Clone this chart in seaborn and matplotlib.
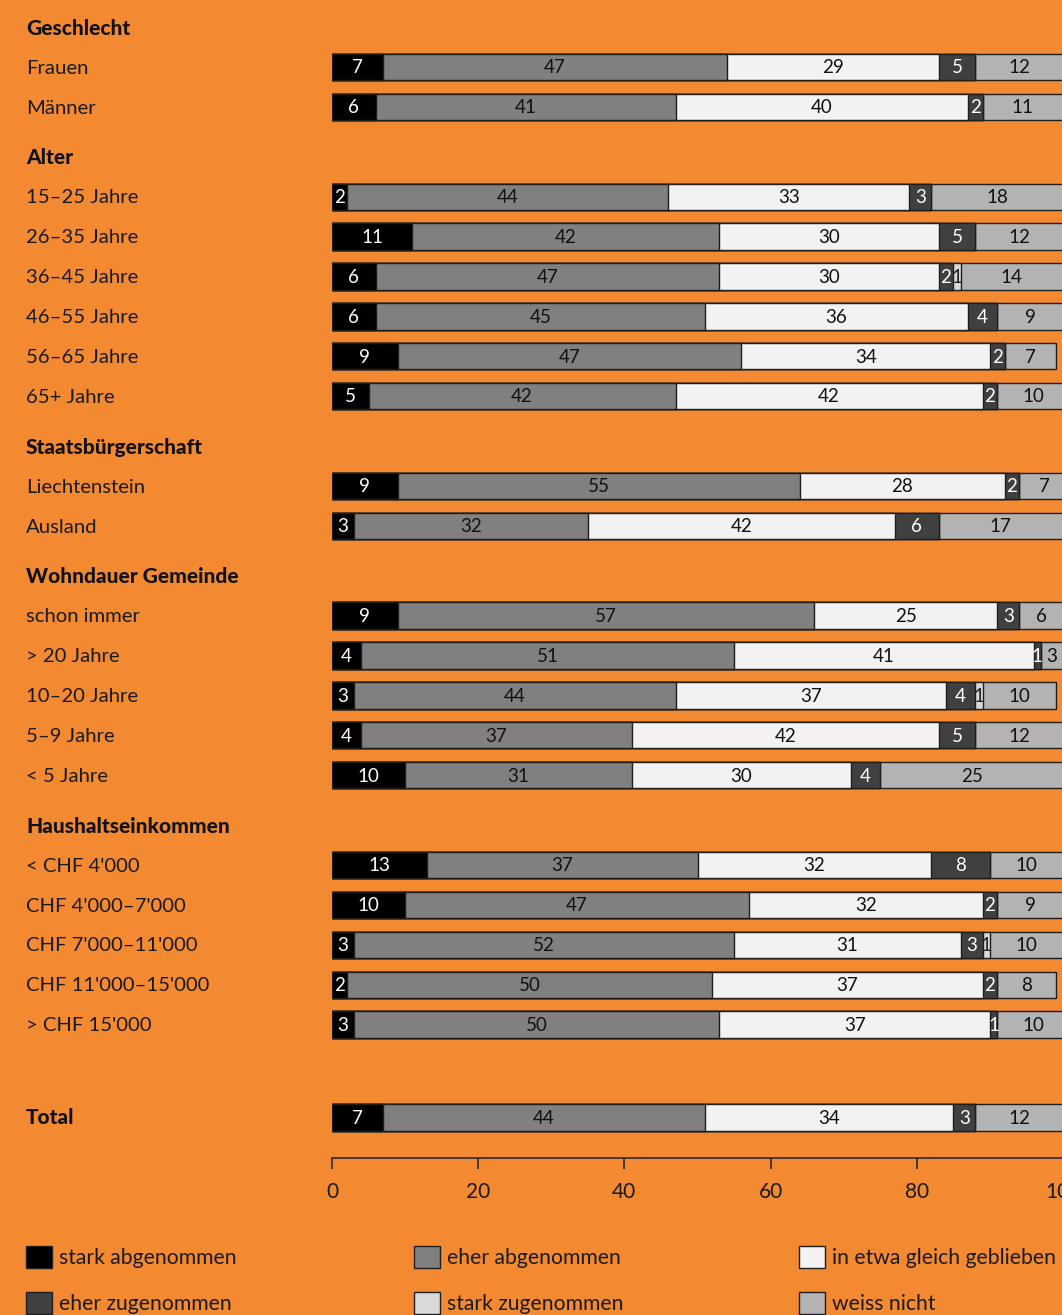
import numpy as np
import pandas as pd
import matplotlib
matplotlib.use("Agg")
import matplotlib.pyplot as plt
import matplotlib.transforms as mtransforms
from matplotlib.patches import Patch
import seaborn as sns

# ---- data ---------------------------------------------------------------
series_names = ["stark abgenommen", "eher abgenommen", "in etwa gleich geblieben",
                "eher zugenommen", "stark zugenommen", "weiss nicht"]

groups = ["Geschlecht", "Alter", "Staatsbürgerschaft", "Wohndauer Gemeinde",
          "Haushaltseinkommen"]

group_rows = [
    ["Frauen", "Männer"],
    ["15–25 Jahre", "26–35 Jahre", "36–45 Jahre", "46–55 Jahre", "56–65 Jahre", "65+ Jahre"],
    ["Liechtenstein", "Ausland"],
    ["schon immer", "> 20 Jahre", "10–20 Jahre", "5–9 Jahre", "< 5 Jahre"],
    ["< CHF 4'000", "CHF 4'000–7'000", "CHF 7'000–11'000", "CHF 11'000–15'000", "> CHF 15'000"],
]

stark_ab = [7, 6, 2, 11, 6, 6, 9, 5, 9, 3, 9, 4, 3, 4, 10, 13, 10, 3, 2, 3]
eher_ab = [47, 41, 44, 42, 47, 45, 47, 42, 55, 32, 57, 51, 44, 37, 31, 37, 47, 52, 50, 50]
gleich = [29, 40, 33, 30, 30, 36, 34, 42, 28, 42, 25, 41, 37, 42, 30, 32, 32, 31, 37, 37]
eher_zu = [5, 2, 3, 5, 2, 4, 2, 2, 2, 6, 3, 1, 4, 5, 4, 8, 2, 3, 2, 1]
stark_zu = [0, 0, 0, 0, 1, 0, 0, 0, 0, 0, 0, 0, 1, 0, 0, 0, 0, 1, 0, 0]
weiss_nicht = [12, 11, 18, 12, 14, 9, 7, 10, 7, 17, 6, 3, 10, 12, 25, 10, 9, 10, 8, 10]

total_label = "Total"
total_values = [7, 44, 34, 3, 0, 12]

x_ticks = [0, 20, 40, 60, 80, 100]

# ---- styling ------------------------------------------------------------
BG = "#F38A31"
colors = ["#000000", "#808080", "#F2F2F2", "#404040", "#D9D9D9", "#B3B3B3"]
text_on = ["white", "#111111", "#111111", "white", "#222222", "#111111"]
EDGE = "#1E1E1E"
LABEL_FONT = ["Lato", "DejaVu Sans"]
NUM_FONT = ["Lato", "DejaVu Sans"]

sns.set_theme(style="white")
plt.rcParams["font.family"] = LABEL_FONT

# ---- row layout (one unit per row, wider gaps before group headings) ----
rows = []          # (label, position, values)
headers = []       # (label, position)
series_cols = [stark_ab, eher_ab, gleich, eher_zu, stark_zu, weiss_nicht]
pos = 0.0
k = 0
for gi, (g, labels) in enumerate(zip(groups, group_rows)):
    if gi > 0:
        pos += 1.25
    headers.append((g, pos))
    for lab in labels:
        pos += 1.0
        rows.append((lab, pos, [col[k] for col in series_cols]))
        k += 1
pos += 2.33
rows.append((total_label, pos, total_values))

records = []
for lab, p, vals in rows:
    cum = np.cumsum(vals)
    for si, name in enumerate(series_names):
        records.append({"label": lab, "pos": p, "series": name, "value": vals[si],
                        "cum": cum[si], "start": cum[si] - vals[si]})
df = pd.DataFrame(records)

# ---- figure -------------------------------------------------------------
W, H = 1062, 1315
fig = plt.figure(figsize=(W / 100, H / 100), dpi=100, facecolor=BG)
ax_bottom_px = 1158
ax = fig.add_axes([332 / W, 1 - ax_bottom_px / H, (1063 - 332) / W, ax_bottom_px / H])
ax.set_facecolor(BG)

# stacked bars: cumulative totals drawn from the outermost series inwards
for si in range(len(series_names) - 1, -1, -1):
    sub = df[df["series"] == series_names[si]]
    sns.barplot(data=sub, x="cum", y="pos", orient="y", native_scale=True,
                color=colors[si], saturation=1, width=0.66, errorbar=None,
                edgecolor=EDGE, linewidth=1.0, ax=ax)

u = 39.9
y_top = 1 - 67 / u
y_bot = 1 + (ax_bottom_px - 67) / u
ax.set_ylim(y_bot, y_top)
ax.set_xlim(0, 100)

# value labels centred in each segment
for _, r in df.iterrows():
    if r["value"] <= 0:
        continue
    si = series_names.index(r["series"])
    ax.text(r["start"] + r["value"] / 2, r["pos"] + 0.02, f"{int(r['value'])}",
            ha="center", va="center", fontsize=13.5, family=NUM_FONT,
            color=text_on[si])

# row and heading labels at the left margin
trans = mtransforms.blended_transform_factory(fig.transFigure, ax.transData)
for lab, p, _ in rows[:-1]:
    ax.text(26 / W, p + 0.03, lab, transform=trans, ha="left", va="center",
            fontsize=14.6, color="#1A1A1A")
for g, p in headers:
    ax.text(26 / W, p + 0.03, g, transform=trans, ha="left", va="center",
            fontsize=15, fontweight="black", color="#111111")
ax.text(26 / W, rows[-1][1], total_label, transform=trans, ha="left", va="center",
        fontsize=15, fontweight="black", color="#111111")

# axes styling
ax.set_yticks([])
ax.set_ylabel("")
ax.set_xlabel("")
ax.set_xticks(x_ticks)
ax.set_xticklabels([str(t) for t in x_ticks], family=NUM_FONT, fontsize=15,
                   color="#1A1A1A")
ax.tick_params(axis="x", direction="out", length=8, width=1.2, color="#2A2A2A",
               pad=9, bottom=True)
for side in ["top", "right", "left"]:
    ax.spines[side].set_visible(False)
ax.spines["bottom"].set_color("#2A2A2A")
ax.spines["bottom"].set_linewidth(1.2)

# legend: three columns, two rows
fs_leg = 15.2
em = fs_leg * 100 / 72
col_x = [26, 414, 799]
for c in range(3):
    idx = [c, c + 3]
    handles = [Patch(facecolor=colors[i], edgecolor=EDGE, linewidth=1.0) for i in idx]
    fig.legend(handles, [series_names[i] for i in idx],
               loc="upper left", bbox_to_anchor=(col_x[c] / W, 1 - 1246 / H),
               frameon=False, prop={"family": NUM_FONT, "size": fs_leg},
               handlelength=26 / em, handleheight=26 / em, handletextpad=7 / em,
               labelspacing=(50 - 26) / em, borderpad=0, borderaxespad=0,
               labelcolor="#1A1A1A")

fig.savefig("out.png", dpi=100, facecolor=BG)
